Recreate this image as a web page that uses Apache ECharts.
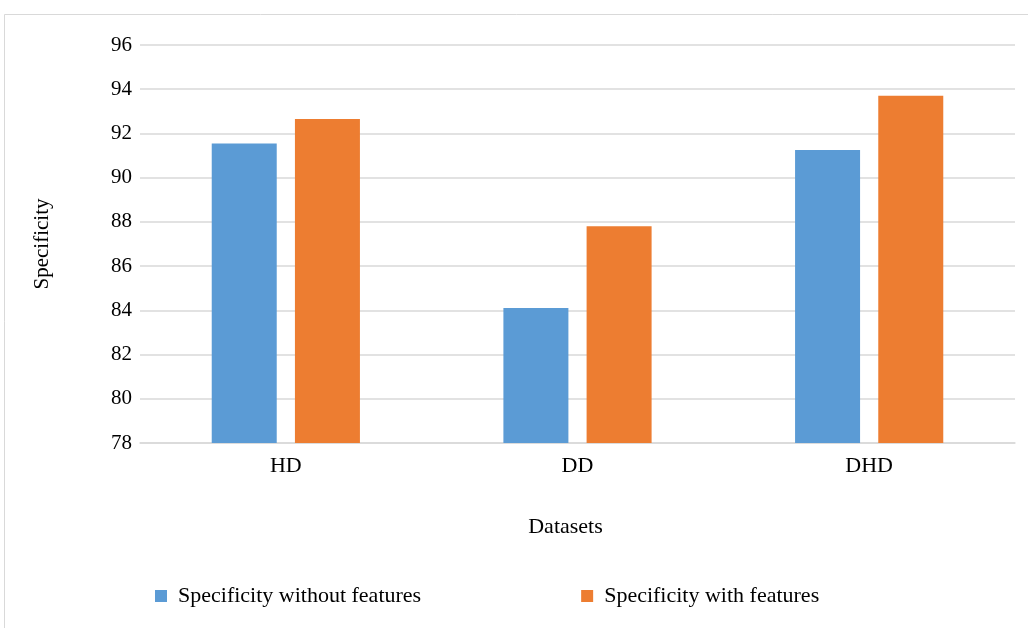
<!DOCTYPE html>
<html><head><meta charset="utf-8">
<script src="https://cdn.jsdelivr.net/npm/echarts@6/dist/echarts.min.js"></script>
<style>html,body{margin:0;padding:0;background:#fff}#c{width:1028px;height:628px}</style>
</head><body><div id="c"></div>
<script>
const categories = ['HD', 'DD', 'DHD'];
const withoutFeatures = [91.55, 84.1, 91.25];
const withFeatures = [92.65, 87.8, 93.7];
const seriesNames = ['Specificity without features', 'Specificity with features'];
const yMin = 78, yMax = 96, yStep = 2;

const font = 'Liberation Serif, Times New Roman, serif';
const chart = echarts.init(document.getElementById('c'));
chart.setOption({
  backgroundColor: '#fff',
  animation: false,
  graphic: [{type: 'rect', shape: {x: 4.5, y: 14.5, width: 1040, height: 640}, style: {fill: 'none', stroke: '#d9d9d9', lineWidth: 1}}],
  grid: {left: 140, right: 13, top: 45, bottom: 185},
  legend: {
    data: seriesNames, bottom: 16, left: 150, itemGap: 160,
    itemWidth: 12, itemHeight: 12, icon: 'rect',
    textStyle: {fontFamily: font, fontSize: 22, color: '#000', padding: [0, 0, 0, 6]}
  },
  xAxis: {
    type: 'category', data: categories,
    name: 'Datasets', nameLocation: 'middle', nameGap: 73,
    nameTextStyle: {fontFamily: font, fontSize: 22, color: '#000', padding: [0, 24, 0, 0]},
    axisLine: {lineStyle: {color: '#d9d9d9', width: 1.5}},
    axisTick: {show: false},
    axisLabel: {fontFamily: font, fontSize: 22, color: '#000', margin: 12}
  },
  yAxis: {
    type: 'value', min: yMin, max: yMax, interval: yStep,
    name: 'Specificity', nameLocation: 'middle', nameGap: 87,
    nameTextStyle: {fontFamily: font, fontSize: 21, color: '#000'},
    axisLine: {show: false}, axisTick: {show: false},
    axisLabel: {fontFamily: font, fontSize: 21, color: '#000', margin: 8},
    splitLine: {lineStyle: {color: '#d9d9d9', width: 1.5}}
  },
  series: [
    {name: seriesNames[0], type: 'bar', data: withoutFeatures, barWidth: 65, barGap: '28%', itemStyle: {color: '#5b9bd5'}},
    {name: seriesNames[1], type: 'bar', data: withFeatures, barWidth: 65, itemStyle: {color: '#ed7d31'}}
  ]
});
</script></body></html>
